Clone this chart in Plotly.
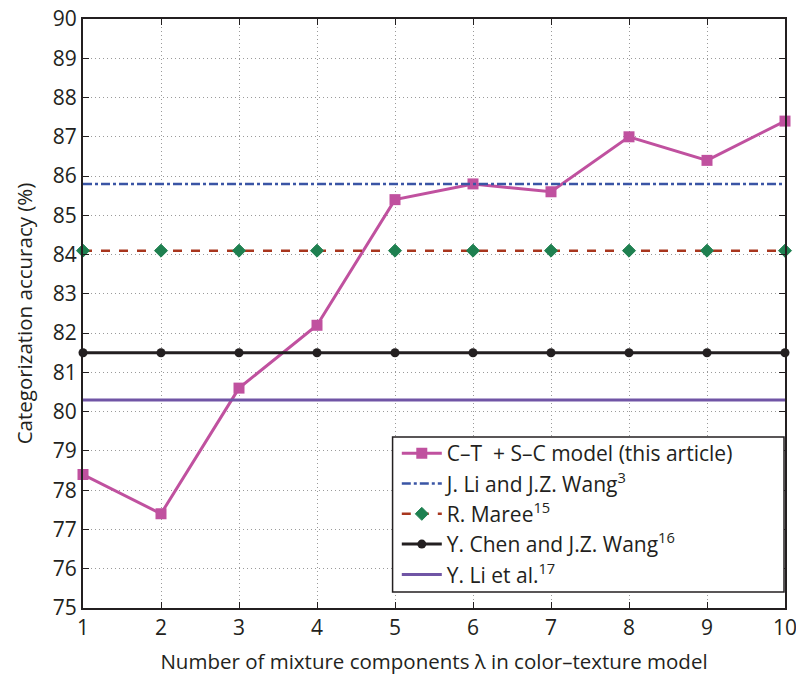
import plotly.graph_objects as go

x = [1, 2, 3, 4, 5, 6, 7, 8, 9, 10]
ct_sc = [78.4, 77.4, 80.6, 82.2, 85.4, 85.8, 85.6, 87.0, 86.4, 87.4]
li_wang = [85.8] * 10
maree = [84.1] * 10
chen_wang = [81.5] * 10
li_etal = [80.3] * 10

names = ["C\u2013T  + S\u2013C model (this article)",
         "J. Li and J.Z. Wang<sup>3</sup>",
         "R. Maree<sup>15</sup>",
         "Y. Chen and J.Z. Wang<sup>16</sup>",
         "Y. Li et al.<sup>17</sup>"]

FONT = "Open Sans"
fig = go.Figure()
fig.add_trace(go.Scatter(x=x, y=ct_sc, name=names[0], mode="lines+markers",
                         line=dict(color="#C0519F", width=3),
                         marker=dict(symbol="square", size=11, color="#C0519F"),
                         cliponaxis=False))
fig.add_trace(go.Scatter(x=x, y=li_wang, name=names[1], mode="lines",
                         line=dict(color="#3A55A5", width=2.5, dash="dashdot"),
                         cliponaxis=False))
fig.add_trace(go.Scatter(x=x, y=maree, name=names[2], mode="lines+markers",
                         line=dict(color="#A8361E", width=2.5, dash="dash"),
                         marker=dict(symbol="diamond", size=10, color="#1E8050",
                                     line=dict(color="#1E8050", width=1)),
                         cliponaxis=False))
fig.add_trace(go.Scatter(x=x, y=chen_wang, name=names[3], mode="lines+markers",
                         line=dict(color="#231F20", width=3),
                         marker=dict(symbol="circle", size=9, color="#231F20"),
                         cliponaxis=False))
fig.add_trace(go.Scatter(x=x, y=li_etal, name=names[4], mode="lines",
                         line=dict(color="#7055A5", width=3),
                         cliponaxis=False))

axis_common = dict(showline=True, linecolor="#231F20", linewidth=2, mirror="ticks",
                   ticks="inside", ticklen=6, tickcolor="#231F20", tickwidth=1,
                   showgrid=True, gridcolor="#9a9a9a", griddash="1px,3px", gridwidth=1,
                   zeroline=False, automargin=False, ticklabeloverflow="allow",
                   tickfont=dict(family=FONT, size=21, color="#231F20"))

fig.update_xaxes(range=[1, 10], tickvals=x, ticktext=[str(v) for v in x],
                 title=dict(text="Number of mixture components \u03bb in color\u2013texture model",
                            font=dict(family=FONT, size=20.5, color="#231F20")),
                 **axis_common)
fig.update_yaxes(range=[75, 90], dtick=1,
                 title=dict(text="Categorization accuracy (%)",
                            font=dict(family=FONT, size=20.5, color="#231F20")),
                 **axis_common)

# legend frame (wider than plotly's auto-sized legend box)
fig.add_shape(type="rect", xref="paper", yref="paper",
              x0=0.441, x1=0.9986, y0=0.0272, y1=0.2903,
              fillcolor="white", line=dict(color="#231F20", width=1.5), layer="above")

fig.update_layout(
    width=796, height=675,
    margin=dict(l=83, r=11, t=19, b=67),
    paper_bgcolor="white", plot_bgcolor="white",
    font=dict(family=FONT, color="#231F20"),
    legend=dict(x=0.447, y=0.297, xanchor="left", yanchor="top",
                bgcolor="rgba(0,0,0,0)", borderwidth=0,
                font=dict(family=FONT, size=21, color="#231F20"),
                tracegroupgap=0, itemwidth=40),
    showlegend=True,
)

fig.write_html("out.html", config={"displayModeBar": False},
               post_script="document.body.style.margin='0';document.body.style.overflow='hidden';")
